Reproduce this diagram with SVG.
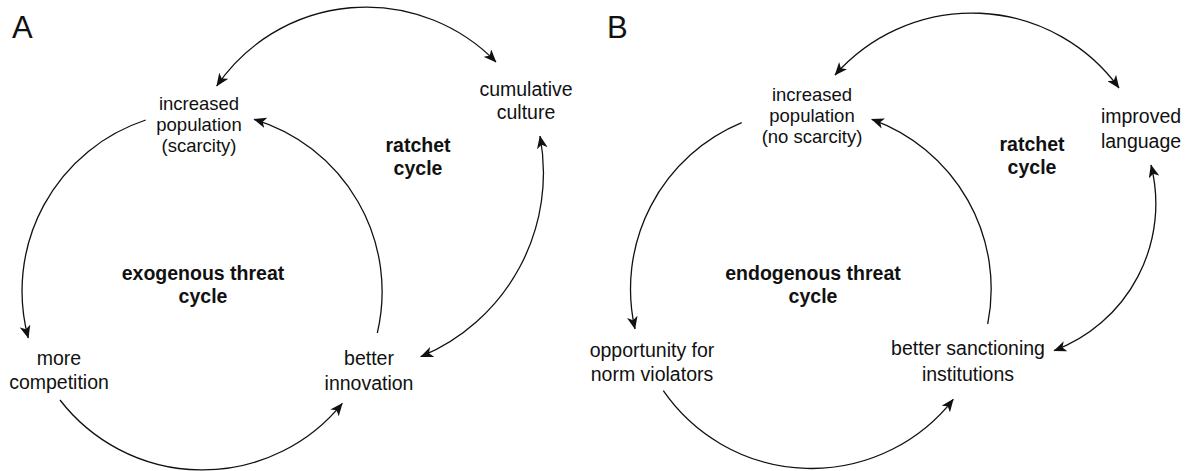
<svg xmlns="http://www.w3.org/2000/svg" width="1189" height="471" viewBox="0 0 1189 471">
<style>
.t{font-family:"Liberation Sans",Arial,Helvetica,sans-serif;font-size:19.5px;fill:#111;text-anchor:middle}
.s{font-size:18.5px}
.b{font-weight:bold}
.p{font-family:"Liberation Sans",Arial,Helvetica,sans-serif;font-size:31px;fill:#111}
.c{fill:none;stroke:#111;stroke-width:1.3}
.a{marker-end:url(#ah)}
.d{marker-start:url(#ah);marker-end:url(#ah)}
</style>
<defs>
<marker id="ah" markerUnits="userSpaceOnUse" viewBox="0 0 12 10" refX="11.5" refY="5" markerWidth="13" markerHeight="10.8" orient="auto-start-reverse">
<path d="M0,0 L12,5 L0,10 L3.2,5 z" fill="#111"/>
</marker>
</defs>
<rect width="1189" height="471" fill="#fff"/>
<text class="p" x="12" y="38">A</text>
<text class="p" x="607" y="38">B</text>
<g id="connectors">
<path class="c a" d="M145.7,120 A180,180 0 0,0 28.3,338"/>
<path class="c a" d="M60,400 A180,180 0 0,0 342.3,403.3"/>
<path class="c a" d="M377.3,333 A180,180 0 0,0 254,119.3"/>
<path class="c d" d="M216.7,86 A181,181 0 0,1 496,62"/>
<path class="c d" d="M540,136 A199,199 0 0,1 420.7,356.7"/>
<path class="c a" d="M741.7,122.7 A180,180 0 0,0 635,329"/>
<path class="c a" d="M663.3,390.7 A180,180 0 0,0 953.3,399.3"/>
<path class="c a" d="M987.7,324 A180,180 0 0,0 871.7,119.3"/>
<path class="c d" d="M835,75 A182,182 0 0,1 1119,88"/>
<path class="c d" d="M1151,165 A157,157 0 0,1 1054,350.7"/>
</g>
<g id="a-pop"><text class="t s" x="199" y="110">increased</text><text class="t s" x="199" y="131">population</text><text class="t s" x="199" y="152">(scarcity)</text></g>
<g id="a-cum"><text class="t" x="526" y="96">cumulative</text><text class="t" x="526" y="119">culture</text></g>
<g id="a-ratchet"><text class="t b" x="418" y="152">ratchet</text><text class="t b" x="418" y="175">cycle</text></g>
<g id="a-exo"><text class="t b" x="203" y="280">exogenous threat</text><text class="t b" x="203" y="303">cycle</text></g>
<g id="a-comp"><text class="t" x="59" y="365">more</text><text class="t" x="59" y="389">competition</text></g>
<g id="a-innov"><text class="t" x="369" y="365">better</text><text class="t" x="369" y="390">innovation</text></g>
<g id="b-pop"><text class="t s" x="812" y="101">increased</text><text class="t s" x="812" y="122">population</text><text class="t s" x="812" y="143">(no scarcity)</text></g>
<g id="b-lang"><text class="t" x="1141" y="123">improved</text><text class="t" x="1141" y="148">language</text></g>
<g id="b-ratchet"><text class="t b" x="1032" y="151">ratchet</text><text class="t b" x="1032" y="174">cycle</text></g>
<g id="b-endo"><text class="t b" x="813" y="280">endogenous threat</text><text class="t b" x="813" y="303">cycle</text></g>
<g id="b-opp"><text class="t" x="652" y="357">opportunity for</text><text class="t" x="652" y="381">norm violators</text></g>
<g id="b-sanc"><text class="t" x="968" y="355">better sanctioning</text><text class="t" x="968" y="381">institutions</text></g>
</svg>
